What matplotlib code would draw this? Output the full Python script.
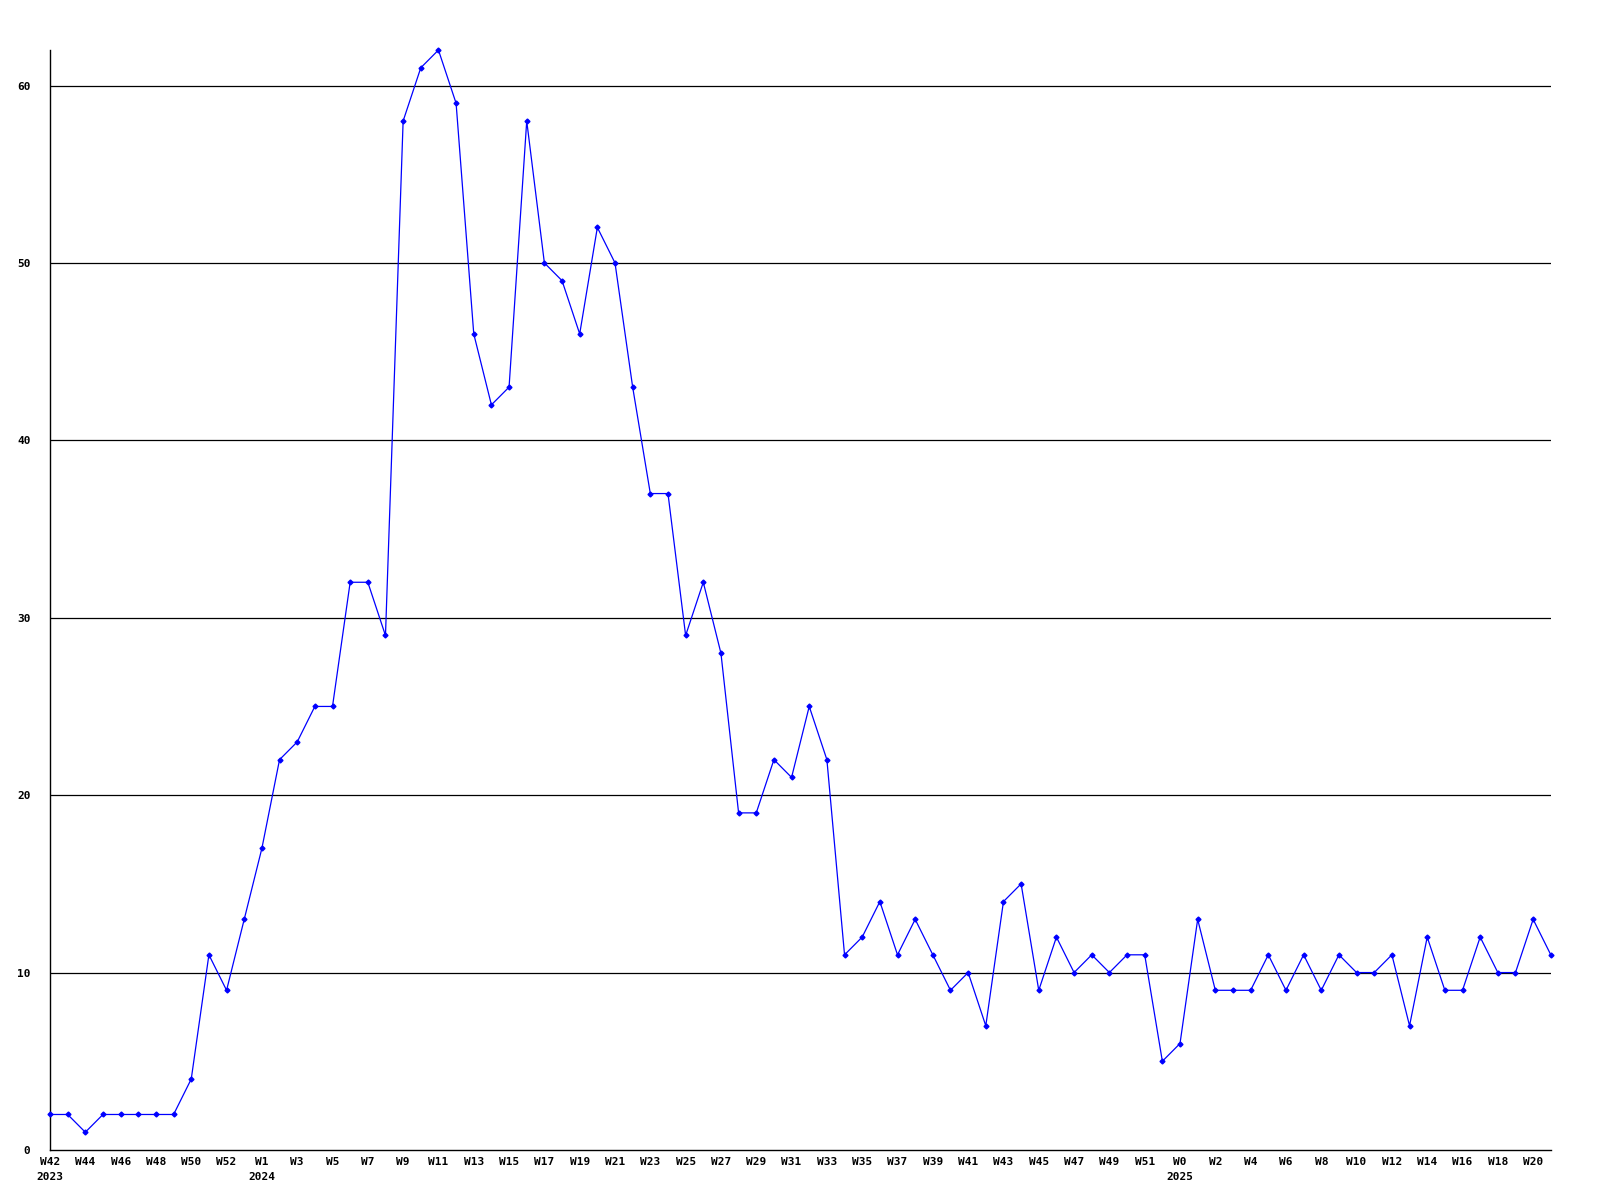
import matplotlib.pyplot as plt

# weekly counts, W42 2023 .. W21 2025
values = [2, 2, 1, 2, 2, 2, 2, 2, 4, 11, 9, 13, 17, 22, 23, 25, 25, 32, 32, 29,
          58, 61, 62, 59, 46, 42, 43, 58, 50, 49, 46, 52, 50, 43, 37, 37, 29, 32, 28, 19,
          19, 22, 21, 25, 22, 11, 12, 14, 11, 13, 11, 9, 10, 7, 14, 15, 9, 12, 10, 11,
          10, 11, 11, 5, 6, 13, 9, 9, 9, 11, 9, 11, 9, 11, 10, 10, 11, 7, 12, 9,
          9, 12, 10, 10, 13, 11]

week_labels = ["W42\n2023", "W44", "W46", "W48", "W50", "W52", "W1\n2024", "W3", "W5", "W7",
               "W9", "W11", "W13", "W15", "W17", "W19", "W21", "W23", "W25", "W27",
               "W29", "W31", "W33", "W35", "W37", "W39", "W41", "W43", "W45", "W47",
               "W49", "W51", "W0\n2025", "W2", "W4", "W6", "W8", "W10", "W12", "W14",
               "W16", "W18", "W20"]
y_ticks = [0, 10, 20, 30, 40, 50, 60]

x = list(range(len(values)))

fig = plt.figure(figsize=(16, 12), dpi=100)
ax = fig.add_axes([0.03125, 0.0417, 0.938, 0.9166])

for yv in y_ticks[1:]:
    ax.axhline(yv, color="black", lw=0.9, zorder=1)

ax.plot(x, values, color="#0000ff", lw=0.9, marker="D", markersize=2.5, zorder=3, clip_on=False)

ax.set_xlim(0, len(values) - 1)
ax.set_ylim(0, 62)
ax.set_xticks(x[::2])
ax.set_xticklabels(week_labels, linespacing=1.6)
ax.set_yticks(y_ticks)
for lab in ax.get_xticklabels() + ax.get_yticklabels():
    lab.set_fontfamily("DejaVu Sans Mono")
    lab.set_fontweight("bold")
    lab.set_fontsize(8)
ax.tick_params(axis="both", length=0)
ax.tick_params(axis="y", pad=14)
ax.tick_params(axis="x", pad=5)
for s in ["top", "right"]:
    ax.spines[s].set_visible(False)
ax.spines["left"].set_linewidth(1.0)
ax.spines["bottom"].set_linewidth(1.0)

fig.savefig("out.png", dpi=100)
